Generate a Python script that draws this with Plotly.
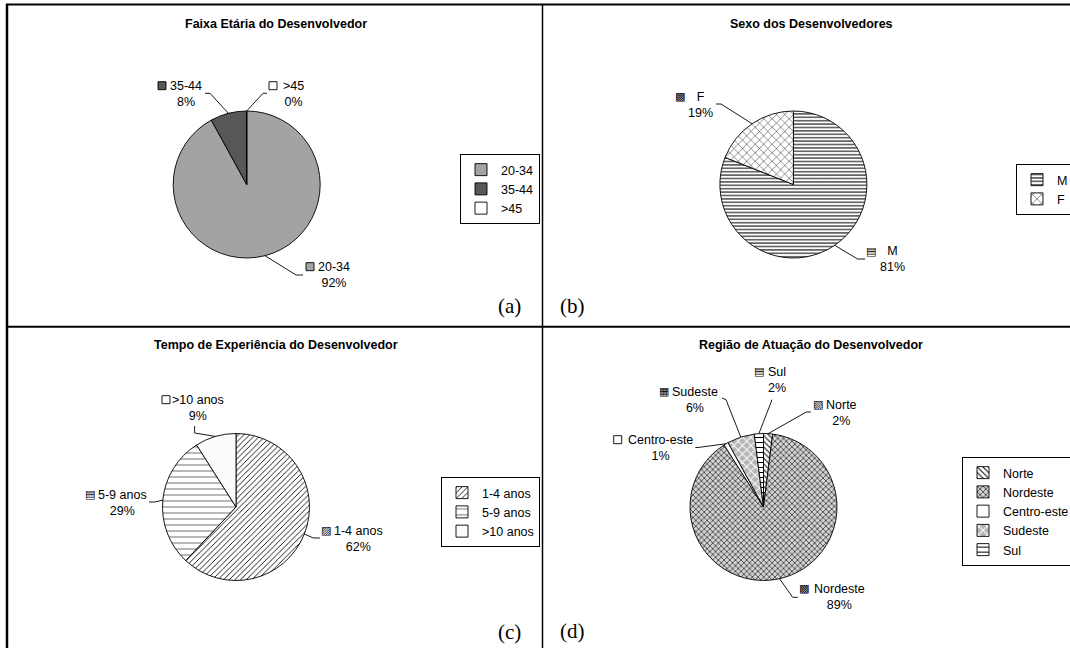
import math
import plotly.graph_objects as go

W, H = 1070, 648

# ---------------- data ----------------
age_title = "Faixa Etária do Desenvolvedor"
age_labels = ["20-34", "35-44", ">45"]
age_values = [92, 8, 0]

sex_title = "Sexo dos Desenvolvedores"
sex_labels = ["M", "F"]
sex_values = [81, 19]

exp_title = "Tempo de Experiência do Desenvolvedor"
exp_labels = ["1-4 anos", "5-9 anos", ">10 anos"]
exp_values = [62, 29, 9]

reg_title = "Região de Atuação do Desenvolvedor"
reg_labels = ["Norte", "Nordeste", "Centro-este", "Sudeste", "Sul"]
reg_values = [2, 89, 1, 6, 2]

panel_tags = ["(a)", "(b)", "(c)", "(d)"]

# ---------------- layout helpers ----------------
def px(x):
    return x / W


def py(y):
    return 1 - y / H


FONT = "Liberation Sans, Arial, sans-serif"
FS = 12.5

panels = [
    dict(
        title=age_title, labels=age_labels, values=age_values, legend="legend",
        center=(246.7, 184.5), r=73.5, title_pos=(275.7, 24), tag_pos=(509, 306),
        colors=["#a3a3a3", "#575757", "#ffffff"],
        pattern=None,
        keys=[("rect", "#a3a3a3"), ("rect", "#575757"), ("rect", "#ffffff")],
        lab=[
            dict(block=(334, 275.5), key=(310, 266.7), elbow=(296, 275), end=(303, 275)),
            dict(block=(186, 94.3), key=(162, 85.7), elbow=(210, 93.3), end=(205, 93.3)),
            dict(block=(293, 94.3), key=(273, 85.7), elbow=(263, 93.3), end=(267, 93.3)),
        ],
    ),
    dict(
        title=sex_title, labels=sex_labels, values=sex_values, legend="legend2",
        center=(793.4, 184.5), r=73.5, title_pos=(811.5, 24), tag_pos=(572, 306),
        colors=["#ffffff", "#ffffff"],
        pattern=dict(shape=["-", "x"], fgcolor=["#000000", "#000000"],
                     bgcolor=["#ffffff", "#ffffff"], size=[3.4, 6], solidity=[0.3, 0.14]),
        keys=[("glyph", "▤"), ("glyph", "▩")],
        lab=[
            dict(block=(892, 259.3), key=(871, 251), elbow=(857.5, 259), end=(865, 259)),
            dict(block=(700, 105.3), key=(679.5, 96.7), elbow=(721, 104), end=(716, 104)),
        ],
    ),
    dict(
        title=exp_title, labels=exp_labels, values=exp_values, legend="legend3",
        center=(236, 507), r=73.5, title_pos=(276, 345), tag_pos=(509, 632),
        colors=["#ffffff", "#ffffff", "#fbfbfb"],
        pattern=dict(shape=["/", "-", ""], fgcolor=["#000000", "#555555", "#000000"],
                     bgcolor=["#ffffff", "#ffffff", "#fbfbfb"], size=[4, 6, 6],
                     solidity=[0.22, 0.14, 0.2]),
        keys=[("glyph", "▨"), ("glyph", "▤"), ("rect", "#ffffff")],
        lab=[
            dict(block=(358, 539.2), key=(325.5, 530.3), elbow=(313.4, 538), end=(320, 538)),
            dict(block=(122.2, 502.7), key=(89.5, 494), elbow=(155, 502), end=(149, 502)),
            dict(block=(198, 408.3), key=(166, 399.7), elbow=(194.6, 433), end=(194.6, 426)),
        ],
    ),
    dict(
        title=reg_title, labels=reg_labels, values=reg_values, legend="legend4",
        center=(763.5, 507), r=73.5, title_pos=(810.5, 345), tag_pos=(572, 631),
        colors=["#ffffff", "#d2d2d2", "#ffffff", "#b5b5b5", "#ffffff"],
        pattern=dict(shape=["\\", "x", "", "x", "-"],
                     fgcolor=["#000000", "#333333", "#000000", "#ffffff", "#000000"],
                     bgcolor=["#ffffff", "#d2d2d2", "#ffffff", "#b5b5b5", "#ffffff"],
                     size=[4, 4, 6, 6, 5], solidity=[0.25, 0.35, 0.2, 0.3, 0.2]),
        keys=[("glyph", "▧"), ("glyph", "▩"), ("rect", "#ffffff"), ("glyph", "▦"), ("glyph", "▤")],
        lab=[
            dict(block=(841, 412.7), key=(818.3, 404), elbow=(806.3, 412), end=(810.8, 412)),
            dict(block=(839, 596.7), key=(803.7, 588), elbow=(792.7, 597.3), end=(797.8, 597.3)),
            dict(block=(660, 448), key=(617.7, 439.7), elbow=(698, 447.5), end=(695.4, 447.5)),
            dict(block=(695, 400), key=(663.8, 391.3), elbow=(726, 399.7), end=(722, 398)),
            dict(block=(777, 380), key=(759.3, 371.3), elbow=(771.5, 401), end=(771.5, 399.7)),
        ],
    ),
]

legend_pos = {
    "legend": dict(x=px(540), xanchor="right", y=py(154)),
    "legend2": dict(x=px(1016), xanchor="left", y=py(164)),
    "legend3": dict(x=px(540), xanchor="right", y=py(477)),
    "legend4": dict(x=px(962), xanchor="left", y=py(457)),
}

fig = go.Figure()
shapes = []
annotations = []

for p, tag in zip(panels, panel_tags):
    cx, cy = p["center"]
    r = p["r"]
    marker = dict(colors=p["colors"], line=dict(color="#000000", width=0.9))
    if p["pattern"]:
        marker["pattern"] = dict(fillmode="replace", **p["pattern"])
    fig.add_trace(go.Pie(
        labels=p["labels"], values=p["values"], sort=False, direction="clockwise",
        rotation=0, textinfo="none", marker=marker, legend=p["legend"],
        domain=dict(x=[px(cx - r), px(cx + r)], y=[py(cy + r), py(cy - r)]),
        hovertemplate="%{label}: %{percent}<extra></extra>",
    ))

    # title and panel tag
    tx, ty = p["title_pos"]
    annotations.append(dict(x=px(tx), y=py(ty), xref="paper", yref="paper", showarrow=False,
                            text=f"<b>{p['title']}</b>", font=dict(size=FS, family=FONT, color="#000"),
                            xanchor="center", yanchor="middle"))
    gx, gy = p["tag_pos"]
    annotations.append(dict(x=px(gx), y=py(gy), xref="paper", yref="paper", showarrow=False,
                            text=tag, font=dict(size=21, family="Liberation Serif, Times New Roman, serif", color="#000"),
                            xanchor="center", yanchor="middle"))

    # data labels with leader lines, edge point computed from the slice mid-angle
    total = sum(p["values"])
    cum = 0
    for lbl, val, lay, key in zip(p["labels"], p["values"], p["lab"], p["keys"]):
        theta = math.radians(360 * (cum + val / 2) / total)
        cum += val
        exx, exy = cx + r * math.sin(theta), cy - r * math.cos(theta)
        (elx, ely), (enx, eny) = lay["elbow"], lay["end"]
        shapes.append(dict(type="path", xref="paper", yref="paper",
                           path=f"M{px(exx)},{py(exy)} L{px(elx)},{py(ely)} L{px(enx)},{py(eny)}",
                           line=dict(color="#000000", width=0.9)))
        bx, by = lay["block"]
        pct = round(100 * val / total)
        annotations.append(dict(x=px(bx), y=py(by), xref="paper", yref="paper", showarrow=False,
                                text=f"{lbl}<br>{pct}%", align="center",
                                font=dict(size=FS, family=FONT, color="#000"),
                                xanchor="center", yanchor="middle"))
        kx, ky = lay["key"]
        if key[0] == "rect":
            shapes.append(dict(type="rect", xref="paper", yref="paper",
                               x0=px(kx - 4), x1=px(kx + 4), y0=py(ky + 4), y1=py(ky - 4),
                               fillcolor=key[1], line=dict(color="#000000", width=0.9)))
        else:
            annotations.append(dict(x=px(kx), y=py(ky), xref="paper", yref="paper", showarrow=False,
                                    text=key[1], font=dict(size=11, family="DejaVu Sans", color="#000"),
                                    xanchor="center", yanchor="middle"))

# panel borders
border = dict(color="#000000")
shapes += [
    dict(type="line", xref="paper", yref="paper", x0=px(6), x1=px(1070), y0=py(4.5), y1=py(4.5),
         line=dict(width=2, **border)),
    dict(type="line", xref="paper", yref="paper", x0=px(7), x1=px(7), y0=py(4), y1=py(648),
         line=dict(width=2.5, **border)),
    dict(type="line", xref="paper", yref="paper", x0=px(6), x1=px(1070), y0=py(326.7), y1=py(326.7),
         line=dict(width=2, **border)),
    dict(type="line", xref="paper", yref="paper", x0=px(542.5), x1=px(542.5), y0=py(4), y1=py(648),
         line=dict(width=1.5, **border)),
]

layout_legends = {}
for name, pos in legend_pos.items():
    layout_legends[name] = dict(
        yanchor="top", bgcolor="#ffffff", bordercolor="#000000", borderwidth=1,
        font=dict(size=FS, family=FONT, color="#000"), itemwidth=30, **pos)

fig.update_layout(
    width=W, height=H,
    margin=dict(l=0, r=0, t=0, b=0, autoexpand=False),
    paper_bgcolor="#ffffff", plot_bgcolor="#ffffff",
    font=dict(family=FONT, size=FS, color="#000"),
    shapes=shapes, annotations=annotations,
    **layout_legends,
)

fig.write_html(
    "out.html",
    config={"displayModeBar": False},
    post_script="document.body.style.margin='0px';document.body.style.overflow='hidden';",
)
